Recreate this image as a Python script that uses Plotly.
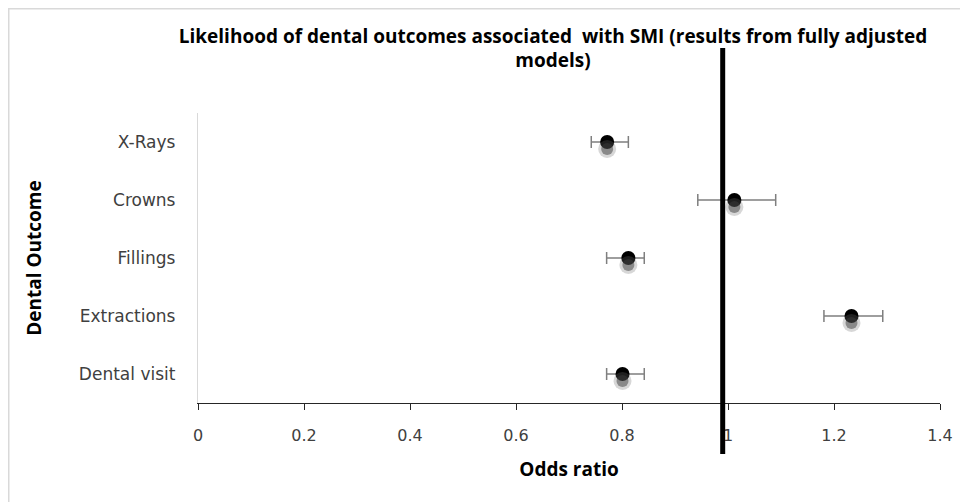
import plotly.graph_objects as go

outcomes = ["X-Rays", "Crowns", "Fillings", "Extractions", "Dental visit"]
odds_ratio = [0.772, 1.012, 0.812, 1.233, 0.801]
ci_lower = [0.742, 0.943, 0.771, 1.181, 0.771]
ci_upper = [0.812, 1.090, 0.842, 1.292, 0.842]
reference_line = 0.99
x_ticks = [0, 0.2, 0.4, 0.6, 0.8, 1, 1.2, 1.4]
x_tick_labels = ["0", "0.2", "0.4", "0.6", "0.8", "1", "1.2", "1.4"]

err_plus = [u - o for u, o in zip(ci_upper, odds_ratio)]
err_minus = [o - l for o, l in zip(odds_ratio, ci_lower)]

TITLE_FONT = "Open Sans"
TICK_FONT = "DejaVu Sans"
shadow_shift = 0.12

W, H = 960, 494
L, T, R, B = 190, 105, 28, 99
PW, PH = W - L - R, H - T - B

fig = go.Figure()

# soft shadow beneath each marker (two layers for a blurred look)
fig.add_trace(go.Scatter(
    x=odds_ratio, y=outcomes, mode="markers", yaxis="y2",
    marker=dict(size=18, color="rgba(110,110,110,0.28)", line=dict(width=0)),
    hoverinfo="skip", showlegend=False,
))
fig.add_trace(go.Scatter(
    x=odds_ratio, y=outcomes, mode="markers", yaxis="y2",
    marker=dict(size=12, color="rgba(60,60,60,0.5)", line=dict(width=0)),
    hoverinfo="skip", showlegend=False,
))
fig.add_trace(go.Scatter(
    x=odds_ratio, y=outcomes, mode="markers",
    marker=dict(size=14, color="black"),
    error_x=dict(type="data", symmetric=False, array=err_plus, arrayminus=err_minus,
                 color="#7f7f7f", thickness=1.5, width=6),
    showlegend=False,
))

n = len(outcomes)
fig.update_layout(
    width=W, height=H,
    margin=dict(l=L, r=R, t=T, b=B),
    paper_bgcolor="white", plot_bgcolor="white",
    title=dict(
        text="<b>Likelihood of dental outcomes associated  with SMI (results from fully adjusted<br>models)</b>",
        x=545 / W, xanchor="center", y=1 - 34.5 / H, yanchor="middle",
        font=dict(family=TITLE_FONT, size=19, color="black"),
    ),
    xaxis=dict(
        range=[0, 1.4], tickvals=x_ticks, ticktext=x_tick_labels,
        showgrid=False, zeroline=False,
        showline=True, linecolor="#262626", linewidth=1.3,
        ticks="outside", ticklen=6, tickcolor="#262626", tickwidth=1.3,
        ticklabelstandoff=12,
        tickfont=dict(family=TICK_FONT, size=16, color="#404040"),
        title=dict(text="<b>Odds ratio</b>", standoff=18,
                   font=dict(family=TITLE_FONT, size=19, color="black")),
    ),
    yaxis=dict(
        type="category", categoryorder="array", categoryarray=outcomes,
        range=[n - 0.5, -0.5],
        showgrid=False, zeroline=False,
        showline=True, linecolor="#d9d9d9", linewidth=1.3,
        ticks="", ticklabelstandoff=18,
        tickfont=dict(family=TICK_FONT, size=17, color="#404040"),
        title=dict(text="<b>Dental Outcome</b>", standoff=32,
                   font=dict(family=TITLE_FONT, size=19, color="black")),
    ),
    yaxis2=dict(
        type="category", categoryorder="array", categoryarray=outcomes,
        range=[n - 0.5 - shadow_shift, -0.5 - shadow_shift],
        overlaying="y", visible=False,
    ),
    shapes=[
        dict(type="line", xref="x", yref="paper", x0=reference_line, x1=reference_line,
             y0=-0.176, y1=1.224, line=dict(color="black", width=5), layer="above"),
        dict(type="rect", xref="paper", yref="paper",
             x0=(0.75 - L) / PW, x1=1.2, y0=-0.5, y1=(T + PH - 0.75) / PH,
             line=dict(color="#d9d9d9", width=1.5), layer="below"),
    ],
)

fig.write_html("out.html")
